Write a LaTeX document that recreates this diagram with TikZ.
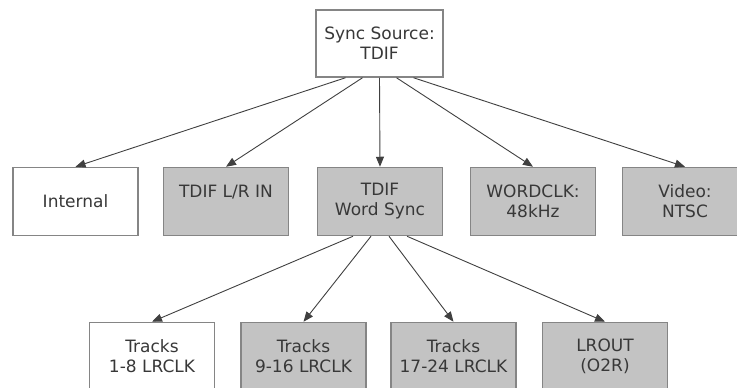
\documentclass[tikz,border=0pt]{standalone}
\usepackage{fontspec}
\setmainfont{DejaVu Sans}
\usetikzlibrary{arrows.meta}
\definecolor{boxfill}{HTML}{C3C3C3}
\definecolor{boxline}{HTML}{858585}
\definecolor{arrline}{HTML}{404040}
\definecolor{txt}{HTML}{383838}
\begin{document}
\begin{tikzpicture}[x=1pt,y=-1pt,
  box/.style={draw=boxline,line width=1.5pt,fill=white,minimum width=125pt,minimum height=68pt,
    inner sep=0pt,align=center,text=txt,font=\fontsize{17}{20}\selectfont},
  grey/.style={box,fill=boxfill},
  arr/.style={draw=arrline,line width=0.9pt,-{Triangle[length=10pt,width=8pt]}}]
\useasboundingbox (0,0) rectangle (737,388);
\node[box,minimum width=127pt,minimum height=67pt] (src) at (379.5,43.5) {Sync Source:\\TDIF};
\node[box] (internal) at (75.5,201.5) {Internal};
\node[grey] (lrin) at (226,201.5) {TDIF L/R IN\\~};
\node[grey] (wsync) at (380,201.5) {TDIF\\Word Sync};
\node[grey] (wclk) at (533,201.5) {WORDCLK:\\48kHz};
\node[grey] (video) at (685,201.5) {Video:\\NTSC};
\node[box] (t1) at (152,356.5) {Tracks\\1-8 LRCLK};
\node[grey] (t2) at (303.5,356.5) {Tracks\\9-16 LRCLK};
\node[grey] (t3) at (453.5,356.5) {Tracks\\17-24 LRCLK};
\node[grey] (lrout) at (605,356.5) {LROUT\\(O2R)};
\draw[arr] ([xshift=-34pt]src.south) -- (internal.north);
\draw[arr] ([xshift=-17pt]src.south) -- (lrin.north);
\draw[arr] (src.south) -- (wsync.north);
\draw[arr] ([xshift=17pt]src.south) -- (wclk.north);
\draw[arr] ([xshift=34pt]src.south) -- (video.north);
\draw[arr] ([xshift=-27pt]wsync.south) -- (t1.north);
\draw[arr] ([xshift=-9pt]wsync.south) -- (t2.north);
\draw[arr] ([xshift=9pt]wsync.south) -- (t3.north);
\draw[arr] ([xshift=27pt]wsync.south) -- (lrout.north);
\end{tikzpicture}
\end{document}
